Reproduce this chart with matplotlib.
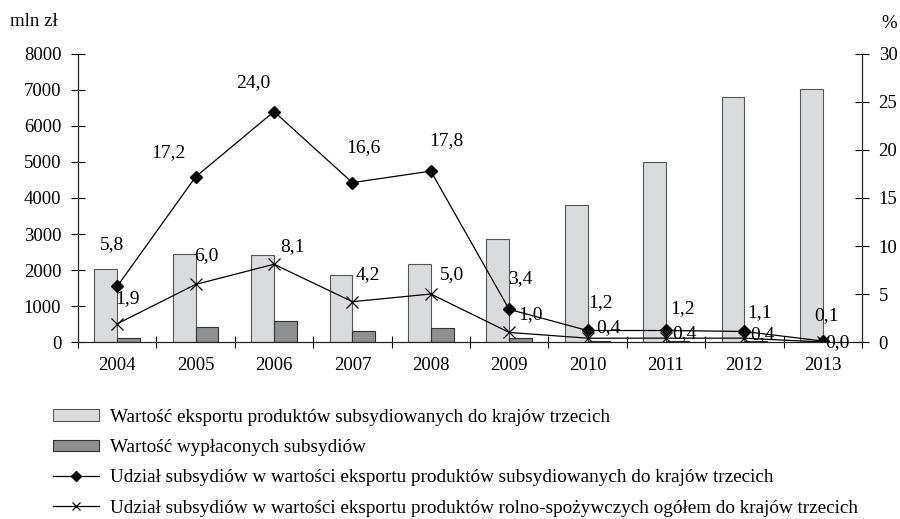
import matplotlib
matplotlib.use("Agg")
import matplotlib.pyplot as plt
import numpy as np

plt.rcParams['font.family'] = ['Liberation Serif', 'DejaVu Serif']

# data
years = ['2004', '2005', '2006', '2007', '2008', '2009', '2010', '2011', '2012', '2013']
eksport = [2020, 2440, 2420, 1860, 2170, 2870, 3810, 5000, 6800, 7030]
subsydia = [110, 420, 570, 300, 380, 100, 30, 30, 25, 5]
udzial_sub = [5.8, 17.2, 24.0, 16.6, 17.8, 3.4, 1.2, 1.2, 1.1, 0.1]
udzial_ogol = [1.9, 6.0, 8.1, 4.2, 5.0, 1.0, 0.4, 0.4, 0.4, 0.0]

labels = ['Wartość eksportu produktów subsydiowanych do krajów trzecich',
          'Wartość wypłaconych subsydiów',
          'Udział subsydiów w wartości eksportu produktów subsydiowanych do krajów trzecich',
          'Udział subsydiów w wartości eksportu produktów rolno-spożywczych ogółem do krajów trzecich']

# label offsets in pixels (dx, dy up)
off_sub = [(-5, 42), (-27, 24), (-21, 29), (11, 35), (16, 31), (11, 31), (13, 28), (17, 22), (15, 19), (4, 25)]
off_ogol = [(10, 25), (11, 29), (18, 18), (15, 27), (21, 19), (21, 18), (21, 11), (18, 5), (18, 4), (15, -1)]

fig = plt.figure(figsize=(9, 5.19), dpi=100)
ax = fig.add_axes([0.0867, 0.341, 0.871, 0.555])
x = np.arange(len(years))
w = 0.29

b1 = ax.bar(x - w / 2, eksport, w, color='#dadbdc', edgecolor='#555555', linewidth=0.8, label=labels[0])
b2 = ax.bar(x + w / 2, subsydia, w, color='#8e8f91', edgecolor='#333333', linewidth=0.8, label=labels[1])
ax.set_ylim(0, 8000)
ax.set_xlim(-0.5, len(years) - 0.5)
ax.set_yticks(range(0, 8001, 1000))
ax.set_xticks(x)
ax.set_xticklabels(years)
ax.set_xticks(np.arange(-0.5, len(years), 1), minor=True)
ax.tick_params(axis='x', which='major', length=0, pad=11, labelsize=13.5)
ax.tick_params(axis='x', which='minor', direction='inout', length=8, width=0.8)
ax.tick_params(axis='y', direction='inout', length=10, width=0.8, labelsize=13.5, pad=7)
ax.spines['top'].set_visible(False)
for s in ax.spines.values():
    s.set_color('#222222')
    s.set_linewidth(0.8)

ax2 = ax.twinx()
l1, = ax2.plot(x, udzial_sub, color='black', linewidth=0.9, marker='D', markersize=6, label=labels[2])
l2, = ax2.plot(x, udzial_ogol, color='black', linewidth=0.9, marker='x', markersize=8,
               markeredgewidth=0.9, label=labels[3])
ax2.set_ylim(0, 30)
ax2.set_yticks(range(0, 31, 5))
ax2.tick_params(axis='y', direction='inout', length=10, width=0.8, labelsize=13.5, pad=7)
ax2.spines['top'].set_visible(False)
for s in ax2.spines.values():
    s.set_color('#222222')
    s.set_linewidth(0.8)

for i in range(len(years)):
    ax2.annotate(f'{udzial_sub[i]:.1f}'.replace('.', ','), (x[i], udzial_sub[i]),
                 xytext=(off_sub[i][0] * 0.72, off_sub[i][1] * 0.72), textcoords='offset points',
                 ha='center', va='center', fontsize=14)
    ax2.annotate(f'{udzial_ogol[i]:.1f}'.replace('.', ','), (x[i], udzial_ogol[i]),
                 xytext=(off_ogol[i][0] * 0.72, off_ogol[i][1] * 0.72), textcoords='offset points',
                 ha='center', va='center', fontsize=14)

fig.text(0.011, 0.958, 'mln zł', fontsize=13.5, va='center', ha='left')
fig.text(0.988, 0.955, '%', fontsize=13.5, va='center', ha='center')

fig.legend([b1, b2, l1, l2], labels, loc='upper left', bbox_to_anchor=(0.059, 0.212),
           frameon=False, fontsize=13.8, labelspacing=0.69, handlelength=2.4,
           handleheight=0.55, handletextpad=0.57, borderaxespad=0, borderpad=0,
           markerscale=0.8)

fig.savefig('out.png', dpi=100)
